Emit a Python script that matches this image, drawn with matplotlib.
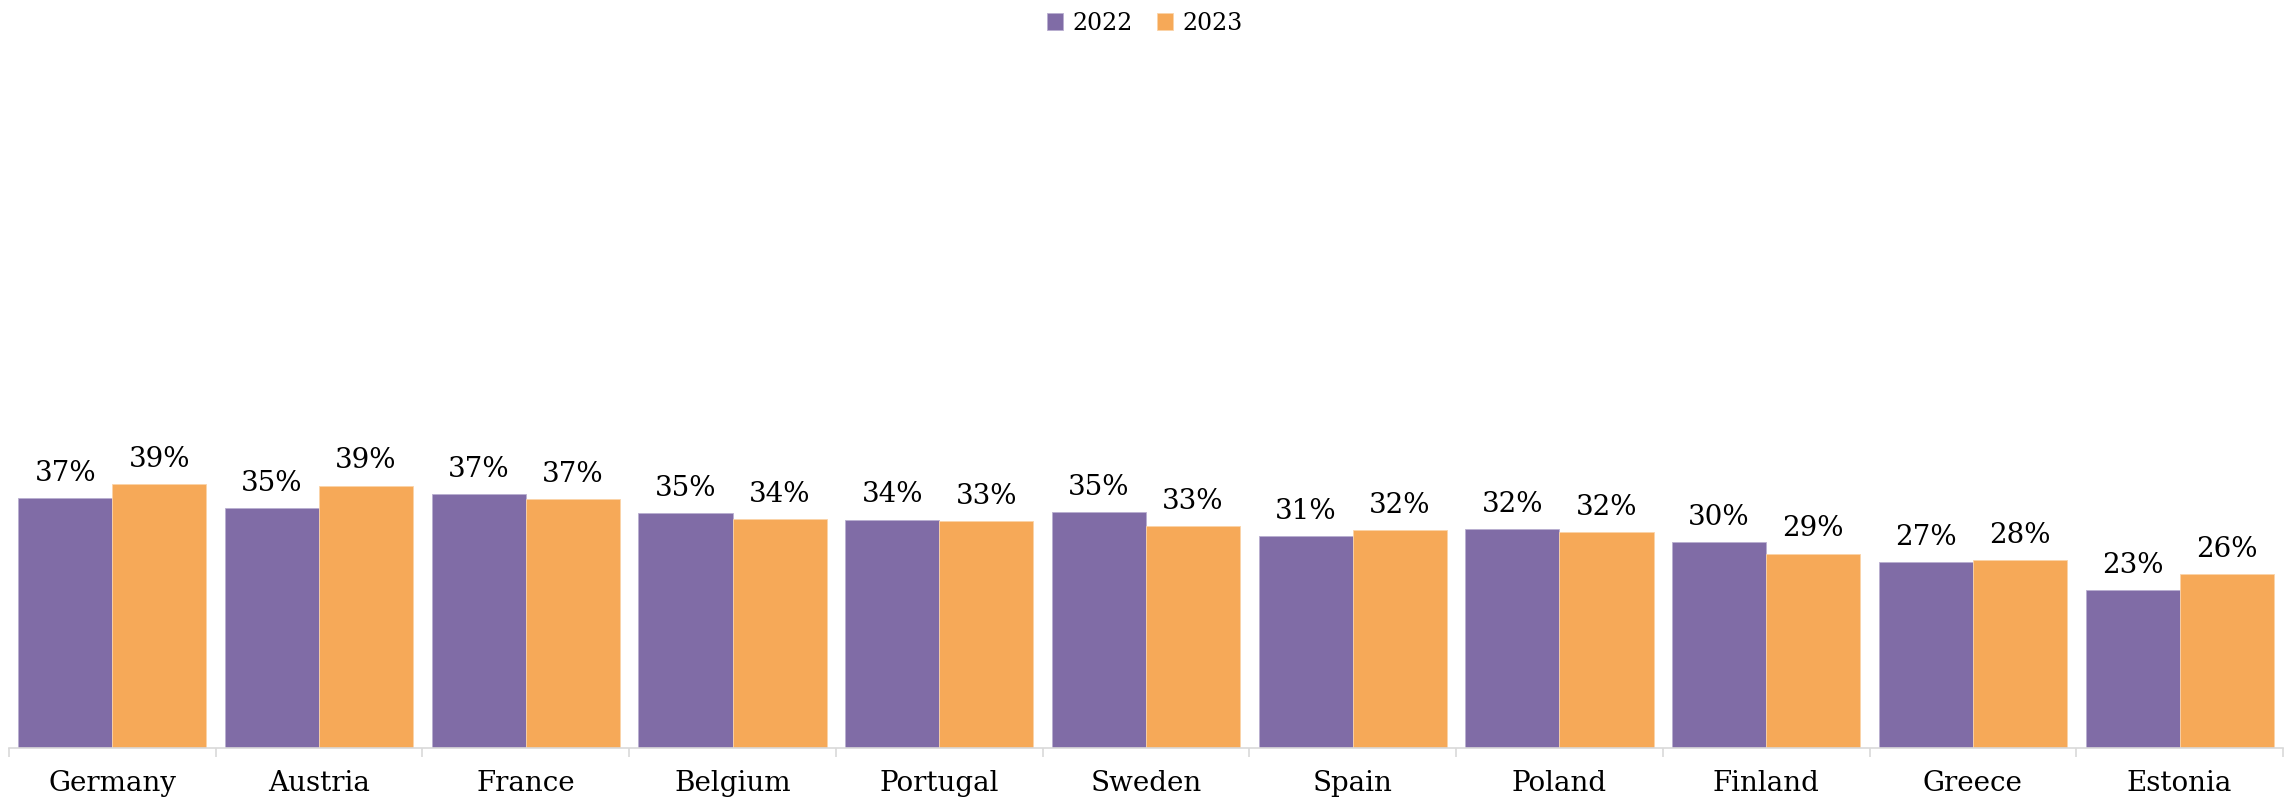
import numpy as np
import matplotlib.pyplot as plt

# données
countries = ['Germany', 'Austria', 'France', 'Belgium', 'Portugal', 'Sweden',
             'Spain', 'Poland', 'Finland', 'Greece', 'Estonia']
vals_2022 = [36.7, 35.3, 37.3, 34.6, 33.6, 34.7, 31.2, 32.2, 30.3, 27.3, 23.2]
vals_2023 = [38.8, 38.6, 36.6, 33.7, 33.4, 32.6, 32.0, 31.7, 28.6, 27.6, 25.6]
series = ['2022', '2023']

purple = '#806ca6'
orange = '#f6a958'
font = 'DejaVu Serif'

plt.rcParams['font.family'] = font

fig = plt.figure(figsize=(22.9, 8), dpi=100)
ax = fig.add_axes([9 / 2290, 52 / 800, 2274 / 2290, 680 / 800])

x = np.arange(len(countries))
w = 0.455
b1 = ax.bar(x - w / 2, vals_2022, w, color=purple, edgecolor='#b9aed0', linewidth=0.6, label=series[0])
b2 = ax.bar(x + w / 2, vals_2023, w, color=orange, edgecolor='#fbd3a8', linewidth=0.6, label=series[1])

for bars in (b1, b2):
    for r in bars:
        v = r.get_height()
        ax.annotate(f'{v:.0f}%', (r.get_x() + r.get_width() / 2, v),
                    xytext=(0, 8), textcoords='offset points',
                    ha='center', va='bottom', fontsize=20)

ax.set_xlim(-0.5, len(countries) - 0.5)
ax.set_ylim(0, 100)
ax.set_yticks([])
for s in ['top', 'left', 'right']:
    ax.spines[s].set_visible(False)
ax.spines['bottom'].set_color('#d9d9d9')
ax.spines['bottom'].set_linewidth(1.2)

ax.set_xticks(x)
ax.set_xticklabels(countries, fontsize=20)
ax.tick_params(axis='x', which='major', length=0, pad=16)
ax.set_xticks(np.arange(-0.5, len(countries)), minor=True)
ax.tick_params(axis='x', which='minor', length=6.5, color='#d9d9d9', width=1.2)

fig.legend(loc='upper center', bbox_to_anchor=(0.5, 1.012), ncol=2, frameon=False,
           fontsize=17, handlelength=0.7, handleheight=0.7, handletextpad=0.4,
           columnspacing=1.0)

fig.savefig('out.png', dpi=100)
